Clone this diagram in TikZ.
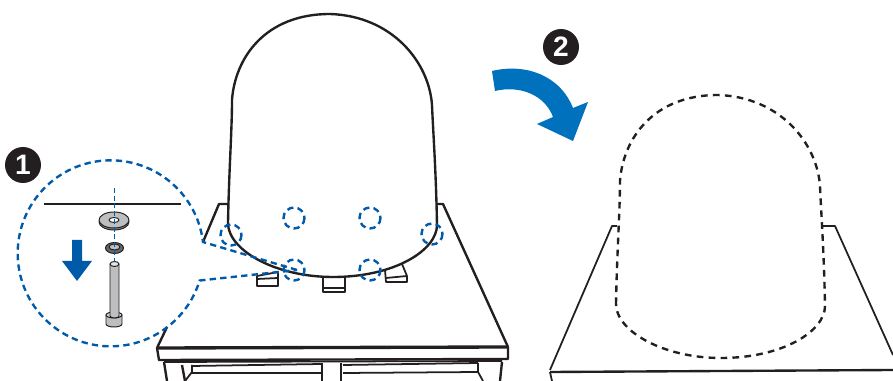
\documentclass[tikz,border=0pt]{standalone}
\usepackage{fontspec}
\setsansfont{Liberation Sans}
\usepackage{tikz}
\usetikzlibrary{calc,positioning,arrows.meta}
\definecolor{MountBlue}{RGB}{0,90,170}
\definecolor{TurnBlue}{RGB}{0,113,188}
\definecolor{BoltGrey}{RGB}{188,190,192}
\definecolor{BadgeBlack}{RGB}{35,31,32}
\tikzset{
  outline/.style={line width=1.35pt,draw=BadgeBlack,line join=round},
  thinline/.style={line width=1pt,draw=BadgeBlack,line join=round},
  fineline/.style={line width=0.55pt,draw=BadgeBlack,line join=round},
  bluedash/.style={line width=1.35pt,draw=MountBlue,dash pattern=on 3.6pt off 2.4pt},
  badge/.style={circle,fill=BadgeBlack,text=white,minimum size=0.72cm,inner sep=0pt,font=\fontsize{16}{16}\sffamily\bfseries},
}
\newcommand{\domepath}{(228,223) .. controls (229,170) and (232,130) .. (232,100) .. controls (235,58) and (265,14) .. (330,14) .. controls (392,16) and (429,62) .. (432,105) .. controls (433,130) and (436,170) .. (437,225) .. controls (437,250) and (395,277) .. (333,277) .. controls (275,277) and (228,250) .. (228,223) -- cycle}
\begin{document}
\begin{tikzpicture}[x=0.02cm,y=-0.02cm]
\useasboundingbox (0,0) rectangle (893,381);
% left table
\draw[outline] (203,242)--(219,204)--(228,204);\draw[outline] (436,204)--(443,204)--(508,347);
\draw[outline] (167,327)--(157,348);
\draw[outline,line width=1.9pt] (157,348)--(508,347);
\draw[outline] (157,348)--(159,360)--(508,359)--(508,347);
\draw[outline] (164,362)--(167,381);\draw[outline] (182,365)--(185,381);
\draw[thinline] (192,365)--(192,372)--(185,381);\draw[thinline] (164,362)--(502,361);
\draw[thinline] (192,366)--(321,364);\draw[thinline] (192,373)--(321,373);
\draw[outline] (322,363)--(322,381);\draw[outline] (341,363)--(341,381);
\draw[thinline] (343,365)--(478,363);\draw[thinline] (343,373)--(478,372);
\draw[thinline] (478,363)--(478,372)--(483,381);\draw[outline] (502,362)--(500,381);
% feet
\draw[thinline] (257,276)--(278,272)--(278,286)--(257,286)--cycle;\draw[thinline] (257,279)--(278,278);
\draw[thinline] (323,277)--(323,292)--(345,292)--(345,277);\draw[thinline] (323,288)--(345,288);
\draw[thinline] (385,270)--(386,282)--(407,282)--(407,276)--(402,264);\draw[thinline] (386,278)--(407,276);
% dome
\draw[outline,fill=white] \domepath;
% mounting holes
\foreach \hx/\hy in {294/218,370/218,231/235,432/234,294/270,370/270}
  \draw[bluedash] (\hx,\hy) circle (10.5);
% callout
\coordinate (calltip) at (297,270);
\draw[bluedash] (calltip)--(203,242) arc[start angle=-7,end angle=-343,radius=93]--(calltip);
\draw[outline] (44,204)--(181,204);
% washer, lock washer and bolt
\draw[fineline,fill=BoltGrey!70!black] (114,222) ellipse (15 and 8);
\draw[fineline,fill=BoltGrey] (114,220) ellipse (15 and 8);
\draw[fineline,fill=white] (114,220) ellipse (5 and 2.5);
\draw[fineline,fill=BoltGrey!45!BadgeBlack] (114.5,248) ellipse (9 and 5.5);
\draw[fineline,fill=BoltGrey] (114.5,247) ellipse (5.5 and 3);
\draw[fineline,fill=BoltGrey] (106,315)--(106,324) arc[start angle=180,end angle=0,x radius=8,y radius=3]--(122,315)--cycle;
\draw[fineline,fill=BoltGrey!70] (114,315) ellipse (8 and 3);
\draw[fineline,fill=BoltGrey] (110,264)--(110,316) arc[start angle=180,end angle=0,x radius=4.5,y radius=2]--(119,264)--cycle;
\draw[fineline,fill=BoltGrey!40] (114.5,264) ellipse (4.5 and 2.5);
\draw[draw=MountBlue,line width=0.7pt,dash pattern=on 2.8pt off 1.6pt] (114.5,188)--(114.5,262);
\fill[MountBlue] (72,240)--(82,240)--(82,261)--(92,261)--(77,281)--(62,261)--(72,261)--cycle;
\node[badge] (badgeone) at (23,165) {1};
% turning arrow
\fill[TurnBlue] (492,71) .. controls (525,63) and (560,75) .. (573,108)--(588,102)--(573,141)--(537,124)--(553,117) .. controls (545,95) and (520,85) .. (495,91)--cycle;
\node[badge] (badgetwo) at (561,47) {2};
% right table
\draw[thinline] (617,226)--(612,226)--(550,370);\draw[thinline] (822,226)--(835,226)--(893,355);
\draw[outline] (550,372)--(893,370);\draw[thinline] (550,372)--(552,381);
\draw[outline,dash pattern=on 3.8pt off 3pt,shift={(388,81)}] \domepath;
\end{tikzpicture}
\end{document}
